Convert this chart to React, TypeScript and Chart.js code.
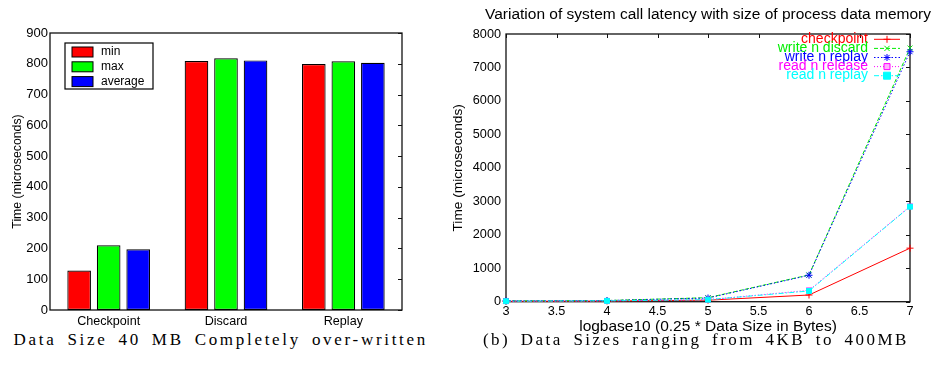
import React, { useEffect, useRef } from 'react';
import { Chart, registerables } from 'chart.js';

Chart.register(...registerables);

// ---------- data: left chart (bar) ----------
const barCategories = ['Checkpoint', 'Discard', 'Replay'];
const barSeriesNames = ['min', 'max', 'average'];
const barMin = [128, 809, 799];
const barMax = [210, 818, 808];
const barAvg = [197, 811, 803];
const barYMin = 0;
const barYMax = 900;
const barYStep = 100;
const barYTitle = 'Time (microseconds)';

// ---------- data: right chart (line) ----------
const lineX = [3, 4, 5, 6, 7];
const lineSeriesNames = ['checkpoint', 'write n discard', 'write n replay', 'read n release', 'read n replay'];
const checkpointY = [12, 20, 45, 200, 1600];
const writeDiscardY = [25, 35, 120, 800, 7580];
const writeReplayY = [25, 35, 110, 790, 7470];
const readReleaseY = [15, 25, 60, 340, 2850];
const readReplayY = [15, 25, 60, 320, 2840];
const lineXMin = 3;
const lineXMax = 7;
const lineXStep = 0.5;
const lineYMin = 0;
const lineYMax = 8000;
const lineYStep = 1000;
const lineTitle = 'Variation of system call latency with size of process data memory';
const lineXTitle = 'logbase10 (0.25 * Data Size in Bytes)';
const lineYTitle = 'Time (microseconds)';

const captionA = '(a) Data Size 40 MB Completely over-written';
const captionB = '(b) Data Sizes ranging from 4KB to 400MB';

const FONT = "'Liberation Sans', Arial, Helvetica, sans-serif";
const SERIF = "'Liberation Serif', 'Times New Roman', serif";

function drawMarker(ctx: CanvasRenderingContext2D, style: string, x: number, y: number, r: number, color: string, fill: string) {
  ctx.save();
  ctx.setLineDash([]);
  ctx.strokeStyle = color;
  ctx.fillStyle = fill;
  ctx.lineWidth = 1;
  ctx.beginPath();
  if (style === 'cross' || style === 'star') {
    ctx.moveTo(x - r, y); ctx.lineTo(x + r, y);
    ctx.moveTo(x, y - r); ctx.lineTo(x, y + r);
  }
  if (style === 'crossRot' || style === 'star') {
    const d = r * 0.75;
    ctx.moveTo(x - d, y - d); ctx.lineTo(x + d, y + d);
    ctx.moveTo(x - d, y + d); ctx.lineTo(x + d, y - d);
  }
  if (style === 'rect') {
    ctx.rect(x - r, y - r, 2 * r, 2 * r);
    ctx.fill();
  }
  ctx.stroke();
  ctx.restore();
}

const framePlugin = {
  id: 'frame',
  beforeDatasetsDraw(chart: any, _a: any, opts: any) {
    const { ctx, chartArea: a } = chart;
    ctx.save();
    ctx.strokeStyle = opts.color || '#000';
    ctx.lineWidth = opts.lineWidth || 1;
    ctx.strokeRect(a.left, a.top, a.right - a.left, a.bottom - a.top);
    const len = opts.tickLength || 4;
    ctx.lineWidth = 1;
    ctx.beginPath();
    if (opts.rightTicks) {
      const ys = chart.scales.y;
      ys.ticks.forEach((t: any) => {
        const p = Math.round(ys.getPixelForValue(t.value)) + 0.5;
        ctx.moveTo(a.right, p); ctx.lineTo(a.right - len, p);
      });
    }
    if (opts.topTicks) {
      const xs = chart.scales.x;
      xs.ticks.forEach((t: any) => {
        const p = Math.round(xs.getPixelForValue(t.value)) + 0.5;
        ctx.moveTo(p, a.top); ctx.lineTo(p, a.top + len);
      });
    }
    ctx.stroke();
    ctx.restore();
  },
};

const topTitlePlugin = {
  id: 'topTitle',
  afterDraw(chart: any, _a: any, opts: any) {
    const { ctx, chartArea: a } = chart;
    ctx.save();
    ctx.fillStyle = '#000';
    ctx.font = `${opts.size}px ${FONT}`;
    ctx.textAlign = 'center';
    ctx.textBaseline = 'middle';
    ctx.fillText(opts.text, (a.left + a.right) / 2, opts.y);
    ctx.restore();
  },
};

const seriesLegendPlugin = {
  id: 'seriesLegend',
  afterDraw(chart: any, _a: any, opts: any) {
    const { ctx, chartArea: a } = chart;
    ctx.save();
    ctx.font = `${opts.size}px ${FONT}`;
    ctx.textAlign = 'right';
    ctx.textBaseline = 'middle';
    chart.data.datasets.forEach((ds: any, i: number) => {
      const y = a.top + opts.firstRow + i * opts.rowGap;
      ctx.fillStyle = ds.borderColor;
      ctx.fillText(ds.label, a.right - opts.textRight, y);
      ctx.strokeStyle = ds.borderColor;
      ctx.lineWidth = ds.borderWidth;
      ctx.setLineDash(ds.borderDash || []);
      ctx.beginPath();
      ctx.moveTo(a.right - opts.lineStart, y + 0.5);
      ctx.lineTo(a.right - opts.lineEnd, y + 0.5);
      ctx.stroke();
      drawMarker(ctx, ds.pointStyle, a.right - (opts.lineStart + opts.lineEnd) / 2, y + 0.5, ds.pointRadius, ds.borderColor, ds.pointBackgroundColor);
    });
    ctx.restore();
  },
};

const boxLegendPlugin = {
  id: 'boxLegend',
  afterDraw(chart: any, _a: any, opts: any) {
    const { ctx, chartArea: a } = chart;
    ctx.save();
    const bx = a.left + opts.x;
    const by = a.top + opts.y;
    ctx.fillStyle = '#fff';
    ctx.fillRect(bx, by, opts.w, opts.h);
    ctx.strokeStyle = '#000';
    ctx.lineWidth = 1.2;
    ctx.strokeRect(bx, by, opts.w, opts.h);
    ctx.font = `${opts.size}px ${FONT}`;
    ctx.textAlign = 'left';
    ctx.textBaseline = 'middle';
    chart.data.datasets.forEach((ds: any, i: number) => {
      const cy = by + opts.firstRow + i * opts.rowGap;
      ctx.fillStyle = ds.backgroundColor;
      ctx.fillRect(bx + 7, cy - 5, 21, 10);
      ctx.strokeStyle = '#000';
      ctx.lineWidth = 1;
      ctx.strokeRect(bx + 7, cy - 5, 21, 10);
      ctx.fillStyle = '#000';
      ctx.fillText(ds.label, bx + 36, cy);
    });
    ctx.restore();
  },
};

function makeBarConfig(): any {
  const colors = ['#ff0000', '#00ff00', '#0000ff'];
  const values = [barMin, barMax, barAvg];
  return {
    type: 'bar',
    data: {
      labels: barCategories,
      datasets: barSeriesNames.map((name, i) => ({
        label: name,
        data: values[i],
        backgroundColor: colors[i],
        borderColor: '#000',
        borderWidth: 1.2,
        borderSkipped: false,
        categoryPercentage: 0.755,
        barPercentage: 0.8,
      })),
    },
    options: {
      responsive: false,
      animation: false,
      layout: { padding: { top: 33, right: 38, left: 0, bottom: 0 } },
      plugins: {
        legend: { display: false },
        tooltip: { enabled: false },
        frame: { lineWidth: 1.3, color: '#111', rightTicks: true, tickLength: 4 },
        boxLegend: { x: 15, y: 10, w: 88, h: 46, firstRow: 9, rowGap: 14.8, size: 12 },
      },
      scales: {
        x: {
          grid: { display: false, drawTicks: false },
          border: { display: false },
          ticks: { color: '#000', font: { family: FONT, size: 12.6 }, padding: 4, maxRotation: 0 },
          afterFit: (s: any) => { s.height = 20; },
        },
        y: {
          min: barYMin,
          max: barYMax,
          grid: { display: false, drawTicks: false },
          border: { display: false },
          ticks: { stepSize: barYStep, color: '#000', font: { family: FONT, size: 13 }, padding: 2 },
          title: { display: true, text: barYTitle, color: '#000', font: { family: FONT, size: 12.3 }, padding: { top: 10, bottom: 0 } },
          afterFit: (s: any) => { s.width = 50; },
        },
      },
    },
    plugins: [framePlugin, boxLegendPlugin],
  };
}

function makeLineConfig(): any {
  const series = [checkpointY, writeDiscardY, writeReplayY, readReleaseY, readReplayY];
  const colors = ['#ff0000', '#00ee00', '#0000ff', '#ff00ff', '#00ffff'];
  const dashes = [[], [4, 2], [1.5, 2], [1, 2], [5, 2, 1.5, 2]];
  const markers = ['cross', 'crossRot', 'star', 'rect', 'rect'];
  const fills = ['#ff0000', '#00ee00', '#0000ff', '#ffb0ff', '#00ffff'];
  const radii = [3.5, 3.5, 3.5, 3, 3.5];
  return {
    type: 'line',
    data: {
      datasets: lineSeriesNames.map((name, i) => ({
        label: name,
        data: lineX.map((x, j) => ({ x, y: series[i][j] })),
        borderColor: colors[i],
        backgroundColor: colors[i],
        borderWidth: 1,
        borderDash: dashes[i],
        pointStyle: markers[i],
        pointRadius: radii[i],
        pointBorderColor: colors[i],
        pointBackgroundColor: fills[i],
        pointBorderWidth: i === 3 ? 1.5 : 1,
        tension: 0,
        fill: false,
        clip: false,
        order: lineSeriesNames.length - i,
      })),
    },
    options: {
      responsive: false,
      animation: false,
      layout: { padding: { top: 34, right: 23, left: 0, bottom: 0 } },
      plugins: {
        legend: { display: false },
        tooltip: { enabled: false },
        frame: { lineWidth: 1.3, color: '#111', rightTicks: true, topTicks: true, tickLength: 4 },
        topTitle: { text: lineTitle, size: 15.5, y: 15 },
        seriesLegend: { size: 14, firstRow: 4.8, rowGap: 9.1, textRight: 42, lineStart: 36, lineEnd: 10 },
      },
      scales: {
        x: {
          type: 'linear',
          min: lineXMin,
          max: lineXMax,
          grid: { display: false, drawTicks: false },
          border: { display: false },
          ticks: { stepSize: lineXStep, color: '#000', font: { family: FONT, size: 12.7 }, padding: 2, maxRotation: 0, callback: (v: any) => String(v) },
          title: { display: true, text: lineXTitle, color: '#000', font: { family: FONT, size: 15.5 }, padding: { top: 0, bottom: 4 } },
          afterFit: (s: any) => { s.height = 38.3; },
        },
        y: {
          min: lineYMin,
          max: lineYMax,
          grid: { display: false, drawTicks: false },
          border: { display: false },
          ticks: { stepSize: lineYStep, color: '#000', font: { family: FONT, size: 12.7 }, padding: 5, callback: (v: any) => String(v) },
          title: { display: true, text: lineYTitle, color: '#000', font: { family: FONT, size: 13.7 }, padding: { top: 10, bottom: 0 } },
          afterFit: (s: any) => { s.width = 66; },
        },
      },
    },
    plugins: [framePlugin, topTitlePlugin, seriesLegendPlugin],
  };
}

function ChartCanvas({ make, left, top, width, height }: { make: () => any; left: number; top: number; width: number; height: number }) {
  const ref = useRef<HTMLCanvasElement>(null);
  useEffect(() => {
    const chart = new Chart(ref.current as HTMLCanvasElement, make());
    return () => chart.destroy();
  }, [make]);
  return (
    <canvas
      ref={ref}
      width={width}
      height={height}
      style={{ position: 'absolute', left, top, width, height, display: 'block' }}
    />
  );
}

const captionStyle: React.CSSProperties = {
  position: 'absolute',
  top: 330,
  fontFamily: SERIF,
  fontSize: 17,
  lineHeight: '20px',
  letterSpacing: '2.45px',
  wordSpacing: '4px',
  whiteSpace: 'nowrap',
  color: '#000',
};

export default function App() {
  return (
    <div style={{ position: 'absolute', left: 0, top: 0, width: 933, height: 368, overflow: 'hidden', background: '#fff' }}>
      <ChartCanvas make={makeBarConfig} left={0} top={0} width={440} height={330} />
      <ChartCanvas make={makeLineConfig} left={440} top={0} width={493} height={340} />
      <div style={{ ...captionStyle, letterSpacing: '2.7px', right: 933 - 428, textAlign: 'right' }}>{captionA}</div>
      <div style={{ ...captionStyle, left: 483 }}>{captionB}</div>
    </div>
  );
}
